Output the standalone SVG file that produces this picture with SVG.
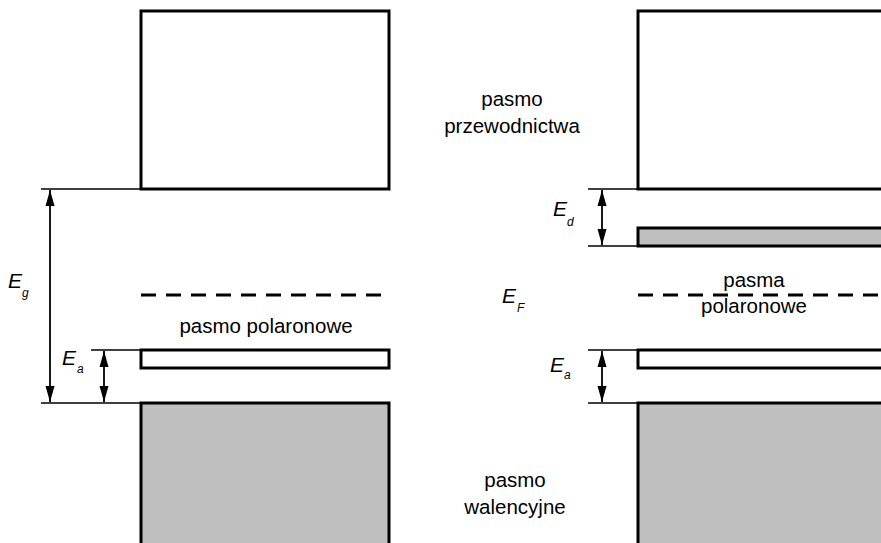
<svg xmlns="http://www.w3.org/2000/svg" width="881" height="543" viewBox="0 0 881 543">
<defs>
<marker id="ah" viewBox="0 0 16 10" refX="16" refY="5" markerWidth="16" markerHeight="10" markerUnits="userSpaceOnUse" orient="auto-start-reverse">
<path d="M0,0.5 L16,5 L0,9.5 Z" fill="#000"/>
</marker>
<style>
.band{stroke:#000;stroke-width:3}
.white{fill:#fff}
.gray{fill:#bebebe}
.ref{stroke:#000;stroke-width:1.6;fill:none}
.arr{stroke:#000;stroke-width:1.8;fill:none;marker-start:url(#ah);marker-end:url(#ah)}
.dash{stroke:#000;stroke-width:3;stroke-dasharray:15 10;fill:none}
.lbl{font-family:"Liberation Sans",Arial,sans-serif;font-size:20.5px;fill:#000}
.sym{font-family:"Liberation Sans",Arial,sans-serif;font-size:21px;font-style:italic;fill:#000}
.sub{font-family:"Liberation Sans",Arial,sans-serif;font-size:12px;font-style:italic;fill:#000}
</style>
</defs>
<rect width="881" height="543" fill="#fff"/>

<g id="left-conduction"><rect class="band white" x="141" y="11" width="248" height="178"/></g>
<g id="left-polaron"><rect class="band white" x="141" y="350" width="248" height="18"/></g>
<g id="left-valence"><rect class="band gray" x="141" y="403" width="248" height="145"/></g>
<g id="left-fermi"><line class="dash" x1="141" y1="295" x2="389" y2="295"/></g>

<g id="right-conduction"><rect class="band white" x="638" y="11" width="260" height="178"/></g>
<g id="right-donor"><rect class="band gray" x="638" y="228" width="260" height="18"/></g>
<g id="right-polaron"><rect class="band white" x="638" y="350" width="260" height="18"/></g>
<g id="right-valence"><rect class="band gray" x="638" y="403" width="260" height="145"/></g>
<g id="right-fermi"><line class="dash" x1="638" y1="295" x2="881" y2="295"/></g>

<g id="connectors">
<line class="ref" x1="41" y1="189" x2="141" y2="189"/>
<line class="ref" x1="41" y1="403" x2="141" y2="403"/>
<line class="ref" x1="91" y1="350" x2="141" y2="350"/>
<line class="arr" x1="50" y1="190" x2="50" y2="402"/>
<line class="arr" x1="104" y1="351" x2="104" y2="402"/>
<line class="ref" x1="588" y1="189" x2="638" y2="189"/>
<line class="ref" x1="588" y1="246" x2="638" y2="246"/>
<line class="ref" x1="588" y1="350" x2="638" y2="350"/>
<line class="ref" x1="588" y1="403" x2="638" y2="403"/>
<line class="arr" x1="602" y1="190" x2="602" y2="245"/>
<line class="arr" x1="602" y1="351" x2="602" y2="402"/>
</g>

<g id="labels">
<text class="lbl" x="512" y="106" text-anchor="middle">pasmo</text>
<text class="lbl" x="512" y="133" text-anchor="middle">przewodnictwa</text>
<text class="lbl" x="266" y="333" text-anchor="middle">pasmo polaronowe</text>
<text class="lbl" x="754" y="287" text-anchor="middle">pasma</text>
<text class="lbl" x="754" y="313" text-anchor="middle">polaronowe</text>
<text class="lbl" x="515" y="487" text-anchor="middle">pasmo</text>
<text class="lbl" x="515" y="514" text-anchor="middle">walencyjne</text>
<text class="sym" x="8" y="288">E</text><text class="sub" x="22" y="297">g</text>
<text class="sym" x="62" y="365">E</text><text class="sub" x="77" y="373">a</text>
<text class="sym" x="502" y="303">E</text><text class="sub" x="517" y="312">F</text>
<text class="sym" x="553" y="216">E</text><text class="sub" x="567" y="226">d</text>
<text class="sym" x="550" y="372">E</text><text class="sub" x="564" y="379">a</text>
</g>
</svg>
